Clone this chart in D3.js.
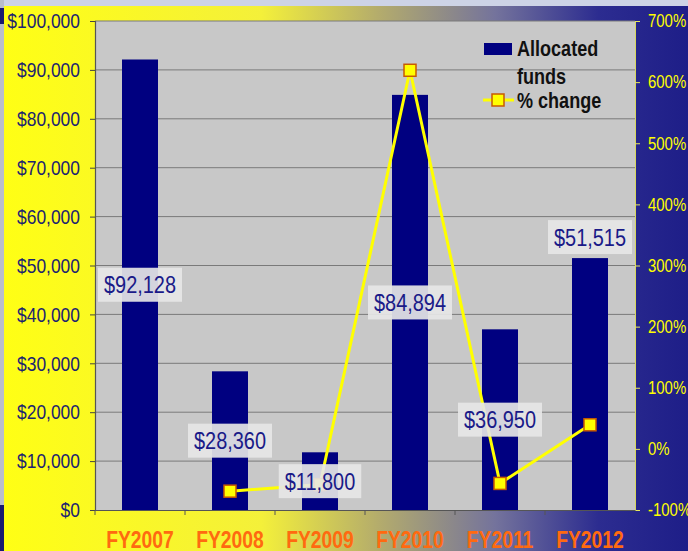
<!DOCTYPE html>
<html>
<head>
<meta charset="utf-8">
<script src="https://cdn.jsdelivr.net/npm/d3@7"></script>
<style>
  body { margin: 0; padding: 0; }
  svg { display: block; }
  text { font-family: "Liberation Sans", Arial, sans-serif; }
</style>
</head>
<body>
<div id="chart"></div>
<script>
// chart data
var years = ["FY2007", "FY2008", "FY2009", "FY2010", "FY2011", "FY2012"];
var funds = [92128, 28360, 11800, 84894, 36950, 51515];
var pctChange = [null, -69.2, -58.4, 619.4, -56.5, 39.4];
var fundLabels = ["$92,128", "$28,360", "$11,800", "$84,894", "$36,950", "$51,515"];
var labelPlace = ["center", "center", "center", "center", "center", "above"];
var leftTicks = [0, 10000, 20000, 30000, 40000, 50000, 60000, 70000, 80000, 90000, 100000];
var rightTicks = [-100, 0, 100, 200, 300, 400, 500, 600, 700];

var W = 688, H = 551;
var margin = {top: 21, right: 53, bottom: 41, left: 95},
    width = W - margin.left - margin.right,
    height = H - margin.top - margin.bottom;

// squeeze text horizontally, like a narrow font
function condense(sel, k) {
  sel.each(function() {
    var w = this.getComputedTextLength();
    d3.select(this)
      .attr("textLength", w * k)
      .attr("lengthAdjust", "spacingAndGlyphs");
  });
}

var root = d3.select("#chart")
  .append("svg")
    .attr("width", W)
    .attr("height", H);

// background: yellow fading to navy
var defs = root.append("defs");
var grad = defs.append("linearGradient")
    .attr("id", "bg")
    .attr("x1", "0").attr("x2", "1").attr("y1", "0").attr("y2", "0");
grad.append("stop").attr("offset", "0").attr("stop-color", "#ffff14");
grad.append("stop").attr("offset", "0.38").attr("stop-color", "#f4f03a");
grad.append("stop").attr("offset", "0.55").attr("stop-color", "#b4ac6c");
grad.append("stop").attr("offset", "0.72").attr("stop-color", "#74739c");
grad.append("stop").attr("offset", "0.87").attr("stop-color", "#2c2c90");
grad.append("stop").attr("offset", "1").attr("stop-color", "#1e1e88");

root.append("rect").attr("width", W).attr("height", H).attr("fill", "url(#bg)");
root.append("rect").attr("width", W).attr("height", 6).attr("fill", "#cdd3e6");
root.append("rect").attr("width", 4).attr("height", H).attr("fill", "#b9bdcc");
root.append("rect").attr("y", 8).attr("width", 4).attr("height", 16).attr("fill", "#1a1a70");
root.append("rect").attr("y", 505).attr("width", 4).attr("height", 46).attr("fill", "#1a1a70");

var svg = root.append("g")
    .attr("transform", "translate(" + margin.left + "," + margin.top + ")");

// plot area
svg.append("rect")
    .attr("width", width)
    .attr("height", height)
    .attr("fill", "#c8c8c8");

var x = d3.scaleBand()
    .domain(years)
    .range([0, width])
    .paddingInner(0.6)
    .paddingOuter(0.3);

var y = d3.scaleLinear()
    .domain([0, 100000])
    .range([height, 0]);

var yR = d3.scaleLinear()
    .domain([-100, 700])
    .range([height, 0]);

// gridlines
svg.append("g")
  .selectAll("line")
  .data(leftTicks.slice(1))
  .enter()
  .append("line")
    .attr("x1", 0)
    .attr("x2", width)
    .attr("y1", function(d) { return y(d); })
    .attr("y2", function(d) { return y(d); })
    .attr("stroke", "#7a7a7a")
    .attr("stroke-width", 1);

// bars
svg.append("g")
  .selectAll("rect")
  .data(funds)
  .enter()
  .append("rect")
    .attr("x", function(d, i) { return x(years[i]); })
    .attr("y", function(d) { return y(d); })
    .attr("width", x.bandwidth())
    .attr("height", function(d) { return height - y(d); })
    .attr("fill", "#000080");

// left axis
var yAxis = svg.append("g")
    .call(d3.axisLeft(y)
      .tickValues(leftTicks)
      .tickSize(5)
      .tickPadding(10)
      .tickFormat(function(d) { return "$" + d3.format(",")(d); }));
yAxis.select(".domain").attr("stroke", "#555").attr("stroke-width", 1.2);
yAxis.selectAll(".tick line").attr("stroke", "#444");
yAxis.selectAll("text")
    .attr("fill", "#1c2470")
    .attr("font-size", "21px")
    .call(condense, 0.83);

// right axis
var rAxis = svg.append("g")
    .attr("transform", "translate(" + width + ",0)")
    .call(d3.axisRight(yR)
      .tickValues(rightTicks)
      .tickSize(5)
      .tickPadding(8)
      .tickFormat(function(d) { return d + "%"; }));
rAxis.select(".domain").attr("stroke", "#d8d860");
rAxis.selectAll(".tick line").attr("stroke", "#e8e860");
rAxis.selectAll("text")
    .attr("fill", "#ffff00")
    .attr("font-size", "18px")
    .call(condense, 0.83);

// bottom axis
var xAxis = svg.append("g")
    .attr("transform", "translate(0," + height + ")")
    .call(d3.axisBottom(x).tickSize(0).tickPadding(22));
xAxis.select(".domain").attr("stroke", "#555").attr("stroke-width", 1.2);
xAxis.selectAll("text")
    .attr("fill", "#ff6a10")
    .attr("font-size", "23px")
    .attr("font-weight", "bold")
    .call(condense, 0.84);
xAxis.selectAll(".boundary")
  .data(years)
  .enter()
  .append("line")
    .attr("x1", function(d) { return x(d) - x.step() * x.paddingInner() / 2; })
    .attr("x2", function(d) { return x(d) - x.step() * x.paddingInner() / 2; })
    .attr("y1", 0)
    .attr("y2", 5)
    .attr("stroke", "#555");

// % change line
var linePts = pctChange
  .map(function(d, i) { return {year: years[i], v: d}; })
  .filter(function(d) { return d.v !== null; });

var line = d3.line()
    .x(function(d) { return x(d.year) + x.bandwidth() / 2; })
    .y(function(d) { return yR(d.v); });

svg.append("path")
    .datum(linePts)
    .attr("d", line)
    .attr("fill", "none")
    .attr("stroke", "#ffff00")
    .attr("stroke-width", 3);

svg.append("g")
  .selectAll("rect")
  .data(linePts)
  .enter()
  .append("rect")
    .attr("x", function(d) { return x(d.year) + x.bandwidth() / 2 - 6; })
    .attr("y", function(d) { return yR(d.v) - 6; })
    .attr("width", 12)
    .attr("height", 12)
    .attr("fill", "#ffff00")
    .attr("stroke", "#c85a00")
    .attr("stroke-width", 1.5);

// data labels with boxes
var labels = svg.append("g");
funds.forEach(function(d, i) {
  var cx = x(years[i]) + x.bandwidth() / 2;
  var cy = labelPlace[i] === "above" ? y(d) - 21 : (y(d) + height) / 2;
  var g = labels.append("g");
  var box = g.append("rect");
  var t = g.append("text")
      .attr("x", cx)
      .attr("y", cy)
      .attr("dy", "0.36em")
      .attr("text-anchor", "middle")
      .attr("font-size", "24px")
      .attr("fill", "#1a1a88")
      .text(fundLabels[i])
      .call(condense, 0.83);
  var bw = t.node().getComputedTextLength();
  box.attr("x", cx - bw / 2 - 6)
     .attr("y", cy - 17)
     .attr("width", bw + 12)
     .attr("height", 34)
     .attr("fill", "#e6e6e6")
     .attr("opacity", 0.92);
});

// legend
var legend = svg.append("g")
    .attr("transform", "translate(" + (484 - margin.left) + ",0)");
legend.append("rect")
    .attr("x", 0).attr("y", 22)
    .attr("width", 28).attr("height", 12)
    .attr("fill", "#000080");
legend.append("line")
    .attr("x1", -1).attr("x2", 30)
    .attr("y1", 79).attr("y2", 79)
    .attr("stroke", "#ffff00").attr("stroke-width", 3);
legend.append("rect")
    .attr("x", 8).attr("y", 73)
    .attr("width", 12).attr("height", 12)
    .attr("fill", "#ffff00")
    .attr("stroke", "#c85a00")
    .attr("stroke-width", 1.5);
legend.selectAll(".lt")
  .data([["Allocated", 35], ["funds", 63], ["% change", 87]])
  .enter()
  .append("text")
    .attr("x", 33)
    .attr("y", function(d) { return d[1]; })
    .attr("font-size", "22px")
    .attr("font-weight", "bold")
    .attr("fill", "#111")
    .text(function(d) { return d[0]; })
    .call(condense, 0.82);
</script>
</body>
</html>
